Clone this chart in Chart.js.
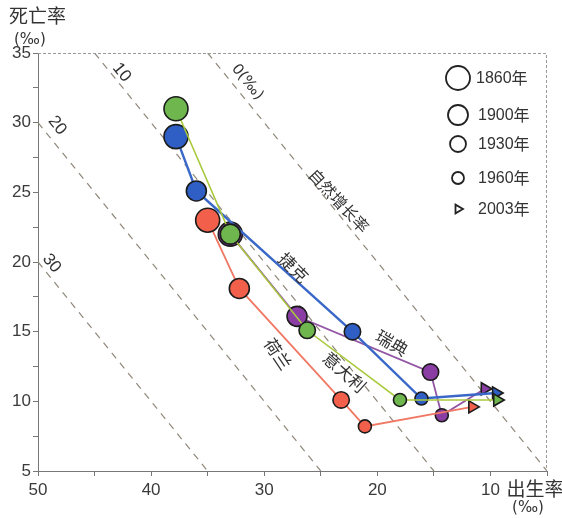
<!DOCTYPE html>
<html lang="zh">
<head>
    <meta charset="UTF-8">
    <title>出生率与死亡率</title>
    <script src="https://cdn.jsdelivr.net/npm/chart.js"></script>
    <style>
        body {
            margin: 0;
            background: #fff;
        }
        #wrap {
            width: 562px;
            height: 518px;
        }
    </style>
</head>
<body>
    <div id="wrap"><canvas id="chart" width="562" height="518"></canvas></div>

    <script>
        // years shown for each country (legend + point order)
        const years = ['1860年', '1900年', '1930年', '1960年', '2003年'];

        // birth rate (x) and death rate (y), per mille
        const czechBirth = [37.8, 36.0, 22.2, 16.1, 9.5];
        const czechDeath = [29.0, 25.1, 15.0, 10.2, 10.6];
        const italyBirth = [37.8, 33.0, 26.2, 18.0, 9.4];
        const italyDeath = [31.0, 22.0, 15.1, 10.1, 10.1];
        const dutchBirth = [35.0, 32.2, 23.2, 21.1, 11.6];
        const dutchDeath = [23.0, 18.1, 10.1, 8.2, 9.6];
        const swedenBirth = [33.0, 27.1, 15.3, 14.3, 10.5];
        const swedenDeath = [22.0, 16.1, 12.1, 9.0, 10.9];

        // natural growth rate reference lines (birth - death)
        const growthRates = [0, 10, 20, 30];

        const xMin = 5, xMax = 50, yMin = 5, yMax = 35;

        const numFont = 'Liberation Sans, Arial, sans-serif';
        const cjkFont = '"Noto Sans CJK SC", sans-serif';
        const permilleFont = '"DejaVu Sans", sans-serif';

        const radii = [12, 10, 8.2, 6.5, 7];
        const styles = ['circle', 'circle', 'circle', 'circle', 'triangle'];
        const rotations = [0, 0, 0, 0, 90];

        function pts(bx, dy) {
            return bx.map((b, i) => ({ x: b, y: dy[i] }));
        }

        function country(label, bx, dy, fill, line, width, order) {
            return {
                label: label,
                data: pts(bx, dy),
                showLine: true,
                borderColor: line,
                borderWidth: width,
                backgroundColor: fill,
                pointBackgroundColor: fill,
                pointBorderColor: '#1b1b1b',
                pointBorderWidth: 1.6,
                pointRadius: radii,
                pointStyle: styles,
                rotation: rotations,
                order: order
            };
        }

        // each growth-rate line clipped to the plot box
        const refSets = growthRates.map(k => {
            const yTop = Math.min(yMax, xMax - k);
            return {
                label: 'r' + k,
                data: [{ x: yTop + k, y: yTop }, { x: yMin + k, y: yMin }],
                showLine: true,
                borderColor: '#8f877a',
                borderWidth: 1.2,
                borderDash: [7, 6],
                pointRadius: 0,
                order: 10
            };
        });

        const datasets = [
            country('意大利', italyBirth, italyDeath, '#6fb64f', '#a9c93c', 1.6, 1),
            country('捷克', czechBirth, czechDeath, '#2f5fc4', '#3a68c8', 2.4, 2),
            country('荷兰', dutchBirth, dutchDeath, '#f2604c', '#f07864', 1.8, 3),
            country('瑞典', swedenBirth, swedenDeath, '#8a3ea4', '#9356a4', 1.8, 4)
        ].concat(refSets);

        // rotated text placed in data coordinates
        const notes = [
            { text: '10', x: 42.6, y: 33.6, rot: 51, font: '17px ' + numFont },
            { text: '0(‰)', x: 31.5, y: 32.9, rot: 51, font: '15px ' + permilleFont },
            { text: '20', x: 48.3, y: 29.8, rot: 51, font: '17px ' + numFont },
            { text: '30', x: 48.8, y: 19.9, rot: 51, font: '17px ' + numFont },
            { text: '自然增长率', x: 23.4, y: 24.4, rot: 47, font: '16px ' + cjkFont },
            { text: '捷克', x: 27.4, y: 19.6, rot: 45, font: '17px ' + cjkFont },
            { text: '瑞典', x: 18.7, y: 14.2, rot: 30, font: '17px ' + cjkFont },
            { text: '意大利', x: 22.9, y: 12.1, rot: 42, font: '17px ' + cjkFont },
            { text: '荷兰', x: 28.8, y: 13.4, rot: 56, font: '17px ' + cjkFont }
        ];

        const decorPlugin = {
            id: 'decor',
            afterDatasetsDraw(chart) {
                const ctx = chart.ctx;
                const a = chart.chartArea;
                const xs = chart.scales.x, ys = chart.scales.y;

                // dotted top / right frame
                ctx.save();
                ctx.strokeStyle = '#9a9a9a';
                ctx.lineWidth = 1;
                ctx.setLineDash([3, 2]);
                ctx.beginPath();
                ctx.moveTo(a.left, a.top + 0.5);
                ctx.lineTo(a.right - 0.5, a.top + 0.5);
                ctx.lineTo(a.right - 0.5, a.bottom);
                ctx.stroke();
                ctx.restore();

                // rotated labels
                ctx.save();
                ctx.fillStyle = '#333';
                ctx.textAlign = 'center';
                ctx.textBaseline = 'middle';
                notes.forEach(n => {
                    ctx.save();
                    ctx.translate(xs.getPixelForValue(n.x), ys.getPixelForValue(n.y));
                    ctx.rotate(n.rot * Math.PI / 180);
                    ctx.font = n.font;
                    ctx.fillText(n.text, 0, 0);
                    ctx.restore();
                });
                ctx.restore();

                // year legend, top right
                const lx = a.right - 89;
                const ly = [a.top + 25, a.top + 62, a.top + 91, a.top + 125, a.top + 156];
                const lr = [12, 10, 8, 6, 5];
                ctx.save();
                ctx.strokeStyle = '#222';
                ctx.lineWidth = 1.8;
                ctx.fillStyle = '#fff';
                years.forEach((yr, i) => {
                    Chart.helpers.drawPoint(ctx, {
                        pointStyle: styles[i],
                        rotation: rotations[i],
                        radius: lr[i],
                        borderWidth: 1.8
                    }, lx, ly[i]);
                });
                ctx.fillStyle = '#333';
                ctx.textBaseline = 'middle';
                ctx.textAlign = 'left';
                years.forEach((yr, i) => {
                    ctx.font = '16px ' + numFont;
                    const num = yr.slice(0, 4);
                    const tx = lx + (i === 0 ? 18 : 20);
                    ctx.fillText(num, tx, ly[i] + 1);
                    const w = ctx.measureText(num).width;
                    ctx.font = '16px ' + cjkFont;
                    ctx.fillText(yr.slice(4), tx + w, ly[i]);
                });
                ctx.restore();

                // axis titles
                ctx.save();
                ctx.fillStyle = '#333';
                ctx.textBaseline = 'middle';
                ctx.textAlign = 'left';
                ctx.font = '19px ' + cjkFont;
                ctx.fillText('死亡率', 9, 16);
                ctx.font = '15px ' + permilleFont;
                ctx.fillText('(‰)', 14, 40);
                ctx.font = '19px ' + cjkFont;
                ctx.fillText('出生率', xs.getPixelForValue(10) + 16, 489);
                ctx.font = '15px ' + permilleFont;
                ctx.textAlign = 'center';
                ctx.fillText('(‰)', 528, 508);
                ctx.restore();
            }
        };

        new Chart(document.getElementById('chart'), {
            type: 'scatter',
            data: { datasets: datasets },
            plugins: [decorPlugin],
            options: {
                responsive: false,
                animation: false,
                layout: { padding: { top: 53, right: 15, left: 0, bottom: 0 } },
                plugins: {
                    legend: { display: false },
                    tooltip: { enabled: false }
                },
                scales: {
                    x: {
                        type: 'linear',
                        reverse: true,
                        min: xMin,
                        max: xMax,
                        afterFit: s => { s.height = 47; },
                        grid: { display: true, drawOnChartArea: false, tickLength: 5, color: '#777' },
                        border: { color: '#777', width: 1 },
                        ticks: {
                            stepSize: 5,
                            padding: 4,
                            maxRotation: 0,
                            autoSkip: false,
                            color: '#3a3a3a',
                            font: { family: numFont, size: 17 },
                            callback: v => (v % 10 === 0 ? v : '')
                        }
                    },
                    y: {
                        type: 'linear',
                        min: yMin,
                        max: yMax,
                        afterFit: s => { s.width = 38; },
                        grid: { display: true, drawOnChartArea: false, tickLength: 5, color: '#777' },
                        border: { color: '#777', width: 1 },
                        ticks: {
                            stepSize: 2.5,
                            padding: 2,
                            autoSkip: false,
                            color: '#3a3a3a',
                            font: { family: numFont, size: 17 },
                            callback: v => (v % 5 === 0 ? v : '')
                        }
                    }
                }
            }
        });
    </script>
</body>
</html>
